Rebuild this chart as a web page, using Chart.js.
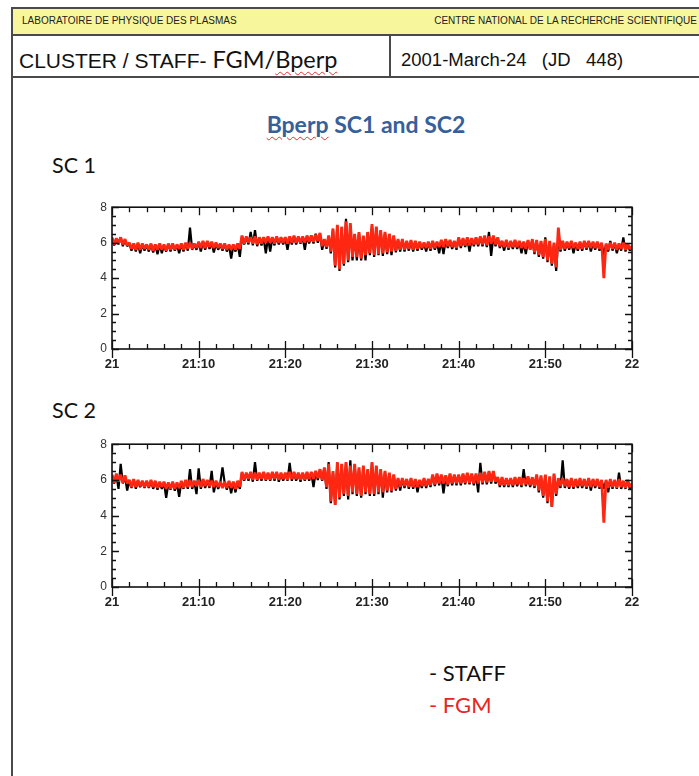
<!DOCTYPE html>
<html>
<head>
<meta charset="utf-8">
<title>Bperp SC1 and SC2</title>
<script src="https://cdn.jsdelivr.net/npm/chart.js@4.4.0/dist/chart.umd.min.js"></script>
<style>
  body { margin: 0; width: 699px; height: 776px; background: #fff; position: relative; overflow: hidden; font-family: "Liberation Sans", Arial, sans-serif; }
  .abs { position: absolute; white-space: pre; }
  .frame { left: 11px; top: 7px; width: 800px; height: 900px; border: 2px solid #4a4a4a; box-sizing: border-box; }
  .band { left: 13px; top: 9px; width: 700px; height: 25px; background: #f8f69c; border-bottom: 2px solid #4a4a4a; }
  .rowline { left: 13px; top: 76px; width: 700px; height: 2px; background: #4a4a4a; }
  .divider { left: 389px; top: 35px; width: 2px; height: 42px; background: #4a4a4a; }
  .small { font-size: 10px; line-height: 12px; color: #222; top: 15px; }
  .calibri { font-family: Lato, "Open Sans", sans-serif; }
  .squiggle { text-decoration: underline wavy #d33; text-decoration-thickness: 1px; text-underline-offset: 3px; }
  canvas { position: absolute; }
</style>
</head>
<body>
<div class="abs frame"></div>
<div class="abs band"></div>
<div class="abs rowline"></div>
<div class="abs divider"></div>
<div class="abs small" style="left:22px;">LABORATOIRE DE PHYSIQUE DES PLASMAS</div>
<div class="abs small" style="right:2px;">CENTRE NATIONAL DE LA RECHERCHE SCIENTIFIQUE</div>
<div class="abs" style="left:19px; top:47px; font-size:21px; line-height:24px; color:#111;">CLUSTER / STAFF-<span class="calibri" style="font-size:23.5px;"> FGM/<span class="squiggle">Bperp</span></span></div>
<div class="abs" style="left:401px; top:49px; font-size:18.5px; line-height:22px; color:#111;">2001-March-24   (JD   448)</div>
<div class="abs calibri" style="left:0; width:732px; text-align:center; top:110px; font-size:23px; line-height:28px; font-weight:bold; color:#36609a;"><span class="squiggle">Bperp</span> SC1 and SC2</div>
<div class="abs calibri" style="left:52px; top:152px; font-size:21.5px; line-height:26px; color:#111;">SC 1</div>
<div class="abs calibri" style="left:52px; top:397px; font-size:21.5px; line-height:26px; color:#111;">SC 2</div>
<div class="abs calibri" style="left:429px; top:660px; font-size:22px; line-height:26px; color:#111;">- STAFF</div>
<div class="abs calibri" style="left:429px; top:692px; font-size:22px; line-height:26px; color:#e8261e;">- FGM</div>
<canvas id="sc1Chart" width="570" height="180" style="left:80px; top:195px;"></canvas>
<canvas id="sc2Chart" width="570" height="181" style="left:80px; top:432px;"></canvas>
<script>
// samples every 15 s from 21:00 to 22:00 (241 values), Bperp in nT
const sampleStep = 0.25; // minutes
const tickMinutes = [0, 10, 20, 30, 40, 50, 60];
const tickLabels = ['21', '21:10', '21:20', '21:30', '21:40', '21:50', '22'];
const yTicks = [0, 2, 4, 6, 8];

const staff1 = [
  6.25,5.85,6.2,5.9, 6.3,5.8,6.15,5.8, 5.95,5.55,5.9,5.5, 5.95,5.4,5.9,5.55, 5.85,5.5,5.9,5.45,
  5.85,5.35,5.9,5.4, 5.85,5.5,5.9,5.5, 5.9,5.55,5.85,5.4, 5.9,5.5,5.95,5.55, 6.85,5.6,5.9,5.6,
  6.0,5.5,6.05,5.6, 6.05,5.65,6.0,5.45, 5.95,5.6,5.9,5.55, 5.9,5.5,5.85,5.1, 5.85,5.5,5.9,5.2,
  6.35,5.9,6.3,5.9, 6.6,5.85,6.7,5.8, 6.25,5.85,6.25,5.4, 6.3,5.5,6.25,5.85, 6.3,5.9,6.25,5.9,
  6.25,5.6,6.3,5.9, 6.35,5.9,6.3,5.95, 6.3,5.6,6.35,5.95, 6.35,5.95,6.5,6.0, 6.5,5.6,6.15,5.65,
  6.35,5.4,6.75,4.6, 6.95,4.4,6.85,4.7, 7.35,4.9,7.0,5.0, 6.45,5.0,6.55,5.0, 6.35,5.0,6.55,5.3,
  6.95,5.2,6.85,5.3, 6.65,5.25,6.55,5.35, 6.45,5.3,6.35,5.45, 6.15,5.5,6.15,5.5, 6.05,5.55,6.1,5.5,
  6.05,5.55,6.0,5.6, 5.95,5.5,6.0,5.55, 6.05,5.6,6.0,5.4, 6.1,5.35,6.15,5.7, 6.1,5.65,6.05,5.6,
  6.25,5.7,6.2,5.75, 6.25,5.5,6.2,5.8, 6.25,5.8,6.3,5.8, 6.35,5.75,6.6,5.25, 6.35,5.8,6.25,5.7,
  6.05,5.55,6.1,5.6, 6.05,5.65,6.1,5.65, 6.05,5.4,6.0,5.35, 6.1,5.6,6.15,5.35, 6.1,5.2,6.05,5.1,
  6.3,4.9,6.05,4.7, 5.95,4.4,6.3,5.5, 6.05,5.55,6.0,5.6, 6.05,5.4,5.95,5.55, 6.0,5.55,6.05,5.6,
  6.05,5.5,6.0,5.6, 6.0,5.55,5.95,5.3, 5.9,5.5,6.1,5.55, 5.95,5.4,5.9,5.55, 6.3,5.5,5.9,5.55,
  5.75
];
const fgm1 = [
  6.3,5.9,6.25,5.95, 6.3,5.9,6.2,5.85, 6.0,5.65,5.95,5.6, 6.0,5.6,5.95,5.65, 5.9,5.6,5.95,5.55,
  5.9,5.6,5.95,5.6, 5.9,5.55,5.95,5.6, 5.95,5.6,5.9,5.65, 5.95,5.6,6.0,5.65, 6.0,5.65,5.95,5.7,
  6.05,5.7,6.1,5.7, 6.1,5.75,6.05,5.7, 6.0,5.7,5.95,5.65, 5.95,5.6,5.9,5.6, 5.9,5.6,5.95,5.65,
  6.4,5.95,6.35,6.0, 6.3,5.95,6.35,5.9, 6.3,5.95,6.3,6.0, 6.35,6.0,6.3,5.95, 6.35,6.0,6.3,6.0,
  6.3,5.95,6.35,6.0, 6.4,6.0,6.35,6.0, 6.35,6.0,6.4,6.05, 6.4,6.05,6.45,6.1, 6.55,5.8,6.2,5.75,
  6.4,5.5,6.8,4.7, 7.0,4.5,6.9,4.8, 7.2,5.0,7.1,5.2, 6.5,5.2,6.6,5.1, 6.4,5.3,6.6,5.4,
  7.05,5.3,6.9,5.35, 6.7,5.4,6.6,5.45, 6.5,5.5,6.4,5.55, 6.2,5.6,6.2,5.6, 6.1,5.65,6.15,5.6,
  6.1,5.65,6.05,5.7, 6.0,5.7,6.05,5.65, 6.1,5.7,6.05,5.75, 6.15,5.75,6.2,5.8, 6.15,5.75,6.1,5.7,
  6.3,5.8,6.25,5.85, 6.3,5.85,6.25,5.9, 6.3,5.9,6.35,5.9, 6.4,5.85,6.35,5.95, 6.4,5.9,6.3,5.8,
  6.1,5.75,6.15,5.7, 6.1,5.75,6.15,5.75, 6.1,5.7,6.05,5.65, 6.15,5.6,6.2,5.45, 6.15,5.3,6.1,5.2,
  6.2,5.0,6.1,4.8, 6.0,4.6,6.85,5.6, 6.1,5.65,6.05,5.7, 6.1,5.7,6.0,5.65, 6.05,5.65,6.1,5.7,
  6.1,5.7,6.05,5.7, 6.05,5.65,6.0,4.0, 5.95,5.6,6.0,5.65, 6.0,5.6,5.95,5.65, 6.0,5.6,5.95,5.65,
  5.8
];
const staff2 = [
  6.25,5.8,6.3,5.5, 6.9,5.8,6.2,5.4, 5.95,5.55,6.0,5.5, 5.95,5.6,5.9,5.55, 5.9,5.55,5.95,5.5,
  5.9,5.45,5.85,5.5, 5.85,5.0,5.8,5.45, 5.85,5.4,5.8,5.05, 5.9,5.5,5.95,5.5, 6.6,5.5,5.9,5.2,
  6.65,5.5,6.0,5.55, 5.95,5.55,6.5,5.3, 5.9,5.5,5.85,6.7, 5.85,5.45,5.9,5.25, 5.85,5.3,5.9,5.5,
  6.4,5.95,6.35,5.95, 6.4,5.9,7.0,5.95, 6.35,5.95,6.4,5.95, 6.35,5.95,6.4,5.95, 6.4,5.9,6.35,5.95,
  6.35,5.95,6.95,5.95, 6.4,5.95,6.35,5.9, 6.35,5.95,6.4,5.95, 6.4,5.6,6.45,6.0, 6.55,5.95,6.65,5.5,
  7.0,4.7,6.45,4.6, 6.95,4.9,6.85,5.1, 6.95,4.9,7.1,5.2, 6.85,5.1,6.65,5.0, 6.75,5.2,6.55,5.1,
  6.95,5.1,6.75,5.2, 6.55,5.0,6.45,5.3, 6.35,5.3,6.25,5.4, 6.05,5.4,6.05,5.55, 6.0,5.5,6.05,5.5,
  6.0,5.3,5.95,5.55, 6.05,5.55,6.0,5.6, 6.25,5.65,6.3,5.7, 6.25,5.25,6.2,5.65, 6.3,5.7,6.25,5.7,
  6.25,5.7,6.3,5.75, 6.35,5.75,6.3,5.7, 6.3,5.3,6.95,5.75, 6.4,5.75,6.45,5.8, 6.45,5.8,6.1,5.6,
  6.1,5.6,6.05,5.6, 6.05,5.6,6.1,5.65, 6.1,5.6,6.6,5.65, 6.15,5.6,6.1,5.55, 6.25,5.3,6.2,5.0,
  6.25,4.7,6.15,4.5, 6.3,5.1,6.05,5.55, 7.1,5.55,6.0,5.5, 6.05,5.5,6.0,5.55, 6.05,5.55,6.0,5.5,
  6.05,5.4,6.0,5.55, 6.0,5.5,5.95,5.5, 5.95,5.3,6.0,5.5, 5.95,5.5,6.4,5.5, 5.9,5.5,5.95,5.5,
  5.75
];
const fgm2 = [
  6.3,5.85,6.35,5.9, 6.3,5.85,6.25,5.8, 6.0,5.6,6.05,5.6, 6.0,5.65,5.95,5.6, 5.95,5.6,6.0,5.6,
  5.95,5.55,5.9,5.6, 5.9,5.5,5.85,5.5, 5.9,5.5,5.85,5.55, 5.95,5.55,6.0,5.6, 6.0,5.6,5.95,5.65,
  6.0,5.6,6.05,5.65, 6.0,5.65,5.95,5.6, 5.95,5.6,5.9,5.55, 5.9,5.55,5.95,5.55, 5.9,5.5,5.95,5.6,
  6.45,6.0,6.4,6.05, 6.45,6.0,6.4,6.0, 6.4,6.05,6.45,6.0, 6.4,6.0,6.45,6.05, 6.45,6.0,6.4,6.05,
  6.4,6.0,6.45,6.05, 6.45,6.05,6.4,6.0, 6.4,6.0,6.45,6.05, 6.45,6.05,6.5,6.1, 6.6,6.0,6.7,5.6,
  6.9,4.8,6.5,4.6, 7.0,5.0,6.9,5.2, 7.0,5.1,6.8,5.3, 6.9,5.2,6.7,5.1, 6.8,5.3,6.6,5.2,
  7.0,5.2,6.8,5.3, 6.6,5.3,6.5,5.4, 6.4,5.4,6.3,5.5, 6.1,5.6,6.1,5.65, 6.05,5.6,6.1,5.6,
  6.05,5.6,6.0,5.65, 6.1,5.65,6.05,5.7, 6.3,5.75,6.35,5.8, 6.3,5.8,6.25,5.75, 6.35,5.8,6.3,5.8,
  6.3,5.8,6.35,5.85, 6.4,5.85,6.35,5.8, 6.35,5.8,6.4,5.85, 6.45,5.85,6.5,5.9, 6.5,5.9,6.15,5.7,
  6.15,5.7,6.1,5.7, 6.1,5.7,6.15,5.75, 6.15,5.7,6.1,5.75, 6.2,5.7,6.15,5.65, 6.3,5.4,6.25,5.1,
  6.3,4.8,6.2,4.5, 6.35,5.2,6.1,5.65, 6.1,5.65,6.05,5.6, 6.1,5.6,6.05,5.65, 6.1,5.65,6.05,5.6,
  6.1,5.6,6.05,5.65, 6.05,5.6,6.0,3.6, 6.0,5.55,6.05,5.6, 6.0,5.55,6.05,5.6, 5.95,5.55,6.0,5.6,
  5.8
];

const toPoints = arr => arr.map((v, i) => ({ x: i * sampleStep, y: v }));

// box around the plot with inward ticks on all four sides
const frameTicks = {
  id: 'frameTicks',
  afterDatasetsDraw(chart) {
    const { ctx, chartArea: a, scales: { x, y } } = chart;
    ctx.save();
    ctx.strokeStyle = '#111';
    ctx.lineWidth = 1.6;
    ctx.strokeRect(a.left, a.top, a.right - a.left, a.bottom - a.top);
    ctx.lineWidth = 1.3;
    ctx.beginPath();
    for (let m = 0; m <= 60; m += 2) {
      const px = Math.round(x.getPixelForValue(m)) + 0.5;
      const major = m % 10 === 0;
      const len = major ? 8 : 5;
      ctx.moveTo(px, a.bottom); ctx.lineTo(px, a.bottom - len);
      ctx.moveTo(px, a.top); ctx.lineTo(px, a.top + len);
      if (major) { ctx.moveTo(px, a.bottom); ctx.lineTo(px, a.bottom + 9); }
    }
    for (let v = 0; v <= 8; v += 0.5) {
      const py = Math.round(y.getPixelForValue(v)) + 0.5;
      const len = v % 2 === 0 ? 7 : 4;
      ctx.moveTo(a.left, py); ctx.lineTo(a.left + len, py);
      ctx.moveTo(a.right, py); ctx.lineTo(a.right - len, py);
    }
    ctx.stroke();
    ctx.restore();
  }
};

function buildChart(id, staff, fgm) {
  return new Chart(document.getElementById(id), {
    type: 'line',
    data: {
      datasets: [
        {
          label: 'FGM',
          data: toPoints(fgm),
          borderColor: 'rgb(255,38,18)',
          borderWidth: 2.8,
          order: 0
        },
        {
          label: 'STAFF',
          data: toPoints(staff),
          borderColor: '#000',
          borderWidth: 2.2,
          order: 1
        }
      ]
    },
    options: {
      responsive: false,
      animation: false,
      devicePixelRatio: 1,
      layout: { padding: { top: 11, right: 18, left: 0, bottom: 0 } },
      elements: { point: { radius: 0 }, line: { tension: 0, borderJoinStyle: 'bevel' } },
      plugins: { legend: { display: false }, tooltip: { enabled: false } },
      scales: {
        x: {
          type: 'linear',
          min: 0,
          max: 60,
          grid: { display: false, drawTicks: false },
          border: { display: false },
          afterBuildTicks: s => { s.ticks = tickMinutes.map(v => ({ value: v })); },
          afterFit: s => { s.height = 26; },
          ticks: {
            autoSkip: false,
            maxRotation: 0,
            padding: 8,
            color: '#222',
            font: { family: 'Liberation Sans', size: 13, weight: 'bold' },
            callback: v => tickLabels[tickMinutes.indexOf(v)]
          }
        },
        y: {
          min: 0,
          max: 8,
          grid: { display: false, drawTicks: false },
          border: { display: false },
          afterBuildTicks: s => { s.ticks = yTicks.map(v => ({ value: v })); },
          afterFit: s => { s.width = 32; },
          ticks: {
            padding: 5,
            color: '#333',
            font: { family: 'Liberation Sans', size: 12 }
          }
        }
      }
    },
    plugins: [frameTicks]
  });
}

buildChart('sc1Chart', staff1, fgm1);
buildChart('sc2Chart', staff2, fgm2);
</script>
</body>
</html>
